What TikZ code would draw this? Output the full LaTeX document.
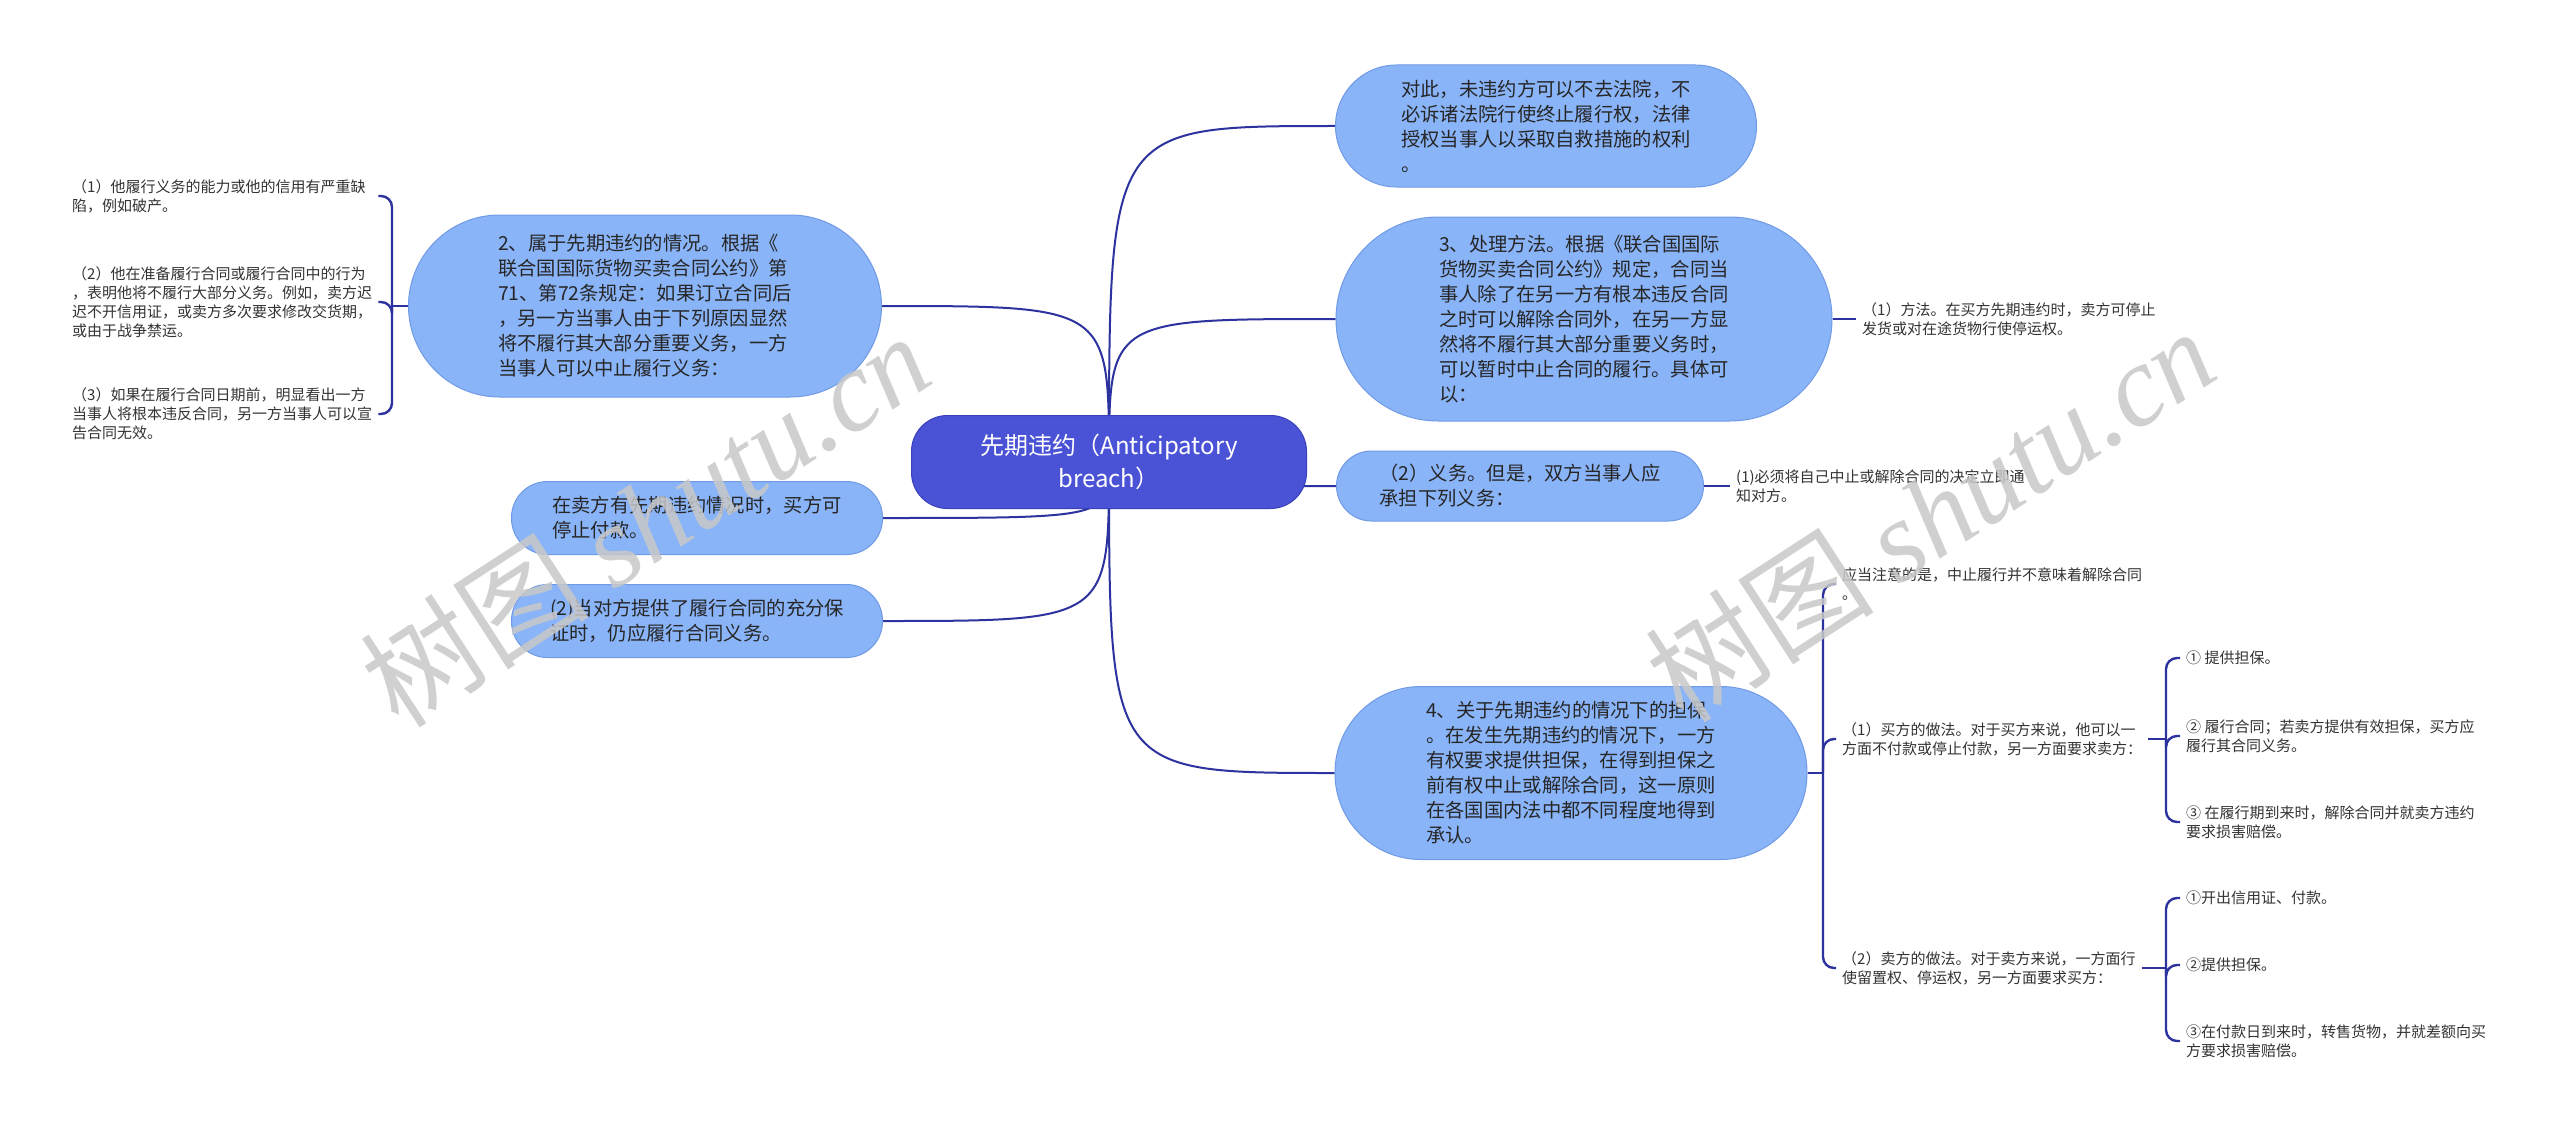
\documentclass[tikz,border=0pt]{standalone}
\usepackage{fontspec}
\setmainfont{Noto Sans CJK SC}
\newfontfamily\wmlatin{Liberation Serif}
\usetikzlibrary{backgrounds}
\definecolor{pillblue}{RGB}{138,180,248}
\definecolor{pillline}{RGB}{112,154,230}
\definecolor{rootblue}{RGB}{74,82,214}
\definecolor{rootline}{RGB}{58,64,186}
\definecolor{linkblue}{RGB}{44,50,158}
\definecolor{markgray}{RGB}{200,200,200}
\tikzset{
  rootbox/.style={draw=rootline, line width=1pt, fill=rootblue, text=white, align=center,
    minimum width=395pt, minimum height=93pt, rounded corners=36pt,
    font=\fontsize{24}{33}\selectfont},
  pill/.style={draw=pillline, line width=1pt, fill=pillblue, text=black!85, align=left,
    inner sep=0pt, font=\fontsize{19.3}{25}\selectfont},
  leaf/.style={anchor=west, align=left, inner xsep=6pt, inner ysep=3pt, text=black!80,
    font=\fontsize{15}{19}\selectfont},
  link/.style={draw=linkblue, line width=2pt},
  brace/.style={draw=linkblue, line width=2.4pt, rounded corners=11pt},
  wmark/.style={text=markgray, opacity=0.85, font=\fontsize{115}{115}\selectfont}
}
\begin{document}
\begin{tikzpicture}[x=1pt, y=-1pt]
\useasboundingbox (0,0) rectangle (2560,1129);
% centre
\node[rootbox] (root) at (1109,462) {先期违约（Anticipatory\\breach）};
% right side
\node[pill, minimum width=421pt, minimum height=122pt, rounded corners=61pt] (r1) at (1546,126)
  {对此，未违约方可以不去法院，不\\必诉诸法院行使终止履行权，法律\\授权当事人以采取自救措施的权利\\。};
\node[pill, minimum width=496pt, minimum height=204pt, rounded corners=102pt] (r2) at (1584,319)
  {3、处理方法。根据《联合国国际\\货物买卖合同公约》规定，合同当\\事人除了在另一方有根本违反合同\\之时可以解除合同外，在另一方显\\然将不履行其大部分重要义务时，\\可以暂时中止合同的履行。具体可\\以：};
\node[pill, minimum width=367pt, minimum height=70pt, rounded corners=35pt] (r3) at (1520,486)
  {（2）义务。但是，双方当事人应\\承担下列义务：};
\node[pill, minimum width=472pt, minimum height=173pt, rounded corners=86pt] (r4) at (1571,773)
  {4、关于先期违约的情况下的担保\\。在发生先期违约的情况下，一方\\有权要求提供担保，在得到担保之\\前有权中止或解除合同，这一原则\\在各国国内法中都不同程度地得到\\承认。};
% left side
\node[pill, minimum width=473pt, minimum height=182pt, rounded corners=91pt] (l1) at (645,306)
  {2、属于先期违约的情况。根据《\\联合国国际货物买卖合同公约》第\\71、第72条规定：如果订立合同后\\，另一方当事人由于下列原因显然\\将不履行其大部分重要义务，一方\\当事人可以中止履行义务：};
\node[pill, minimum width=371pt, minimum height=73pt, rounded corners=36pt] (l2) at (697,518)
  {在卖方有先期违约情况时，买方可\\停止付款。};
\node[pill, minimum width=371pt, minimum height=73pt, rounded corners=36pt] (l3) at (697,621)
  {(2)当对方提供了履行合同的充分保\\证时，仍应履行合同义务。};
% leaves
\node[leaf, text width=300pt] (c1) at (66,196) {（1）他履行义务的能力或他的信用有严重缺\\陷，例如破产。};
\node[leaf, text width=300pt] (c2) at (66,302) {（2）他在准备履行合同或履行合同中的行为\\，表明他将不履行大部分义务。例如，卖方迟\\迟不开信用证，或卖方多次要求修改交货期，\\或由于战争禁运。};
\node[leaf, text width=300pt] (c3) at (66,414) {（3）如果在履行合同日期前，明显看出一方\\当事人将根本违反合同，另一方当事人可以宣\\告合同无效。};
\node[leaf] (r2a) at (1856,319) {（1）方法。在买方先期违约时，卖方可停止\\发货或对在途货物行使停运权。};
\node[leaf] (r3a) at (1730,486) {(1)必须将自己中止或解除合同的决定立即通\\知对方。};
\node[leaf] (r4a) at (1836,584) {应当注意的是，中止履行并不意味着解除合同\\。};
\node[leaf] (r4b) at (1836,739) {（1）买方的做法。对于买方来说，他可以一\\方面不付款或停止付款，另一方面要求卖方：};
\node[leaf] (r4c) at (1836,968) {（2）卖方的做法。对于卖方来说，一方面行\\使留置权、停运权，另一方面要求买方：};
\node[leaf] (s1) at (2180,658) {① 提供担保。};
\node[leaf] (s2) at (2180,736) {② 履行合同；若卖方提供有效担保，买方应\\履行其合同义务。};
\node[leaf] (s3) at (2180,822) {③ 在履行期到来时，解除合同并就卖方违约\\要求损害赔偿。};
\node[leaf] (t1) at (2180,898) {①开出信用证、付款。};
\node[leaf] (t2) at (2180,965) {②提供担保。};
\node[leaf] (t3) at (2180,1041) {③在付款日到来时，转售货物，并就差额向买\\方要求损害赔偿。};
\coordinate (lsp) at (392,306);
\coordinate (rsp) at (1823,773);
\coordinate (bsp) at (2166,739);
\coordinate (csp) at (2166,968);
\begin{scope}[on background layer]
  \fill[white] (0,0) rectangle (2560,1129);
  \draw[link] (root.center) .. controls (root.center |- r1.west) .. (r1.west);
  \draw[link] (root.center) .. controls (root.center |- r2.west) .. (r2.west);
  \draw[link] (root.center) .. controls (root.center |- r3.west) .. (r3.west);
  \draw[link] (root.center) .. controls (root.center |- r4.west) .. (r4.west);
  \draw[link] (root.center) .. controls (root.center |- l1.east) .. (l1.east);
  \draw[link] (root.center) .. controls (root.center |- l2.east) .. (l2.east);
  \draw[link] (root.center) .. controls (root.center |- l3.east) .. (l3.east);
\end{scope}
% brackets
\draw[brace] (l1.west) -- (lsp);
\draw[brace] (lsp) |- (c1.east);
\draw[brace] (lsp) |- (c2.east);
\draw[brace] (lsp) |- (c3.east);
\draw[brace] (r2.east) -- (r2a.west);
\draw[brace] (r3.east) -- (r3a.west);
\draw[brace] (r4.east) -- (rsp);
\draw[brace] (rsp) |- (r4a.west);
\draw[brace] (rsp) |- (r4b.west);
\draw[brace] (rsp) |- (r4c.west);
\draw[brace] (r4b.east) -- (bsp);
\draw[brace] (bsp) |- (s1.west);
\draw[brace] (bsp) |- (s2.west);
\draw[brace] (bsp) |- (s3.west);
\draw[brace] (r4c.east) -- (csp);
\draw[brace] (csp) |- (t1.west);
\draw[brace] (csp) |- (t2.west);
\draw[brace] (csp) |- (t3.west);
% watermark
\node[wmark, rotate=33] (wm1) at (645,519) {树图 {\wmlatin\itshape shutu.cn}};
\node[wmark, rotate=33] (wm2) at (1930,514) {树图 {\wmlatin\itshape shutu.cn}};
\end{tikzpicture}
\end{document}
